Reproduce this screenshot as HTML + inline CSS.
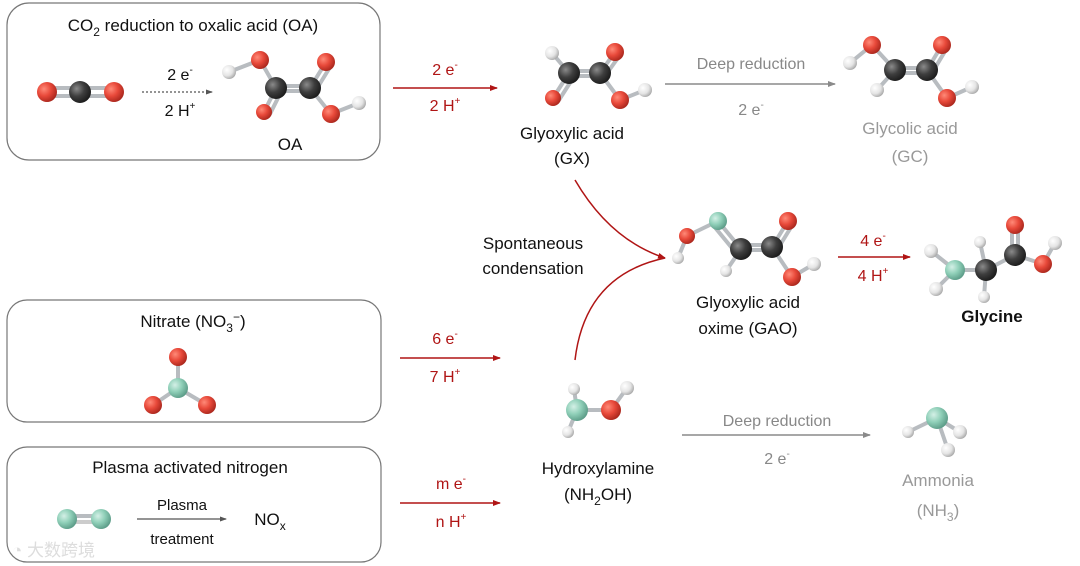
<!DOCTYPE html>
<html><head><meta charset="utf-8"><style>
html,body{margin:0;padding:0;background:#fff;}
svg{display:block;font-family:"Liberation Sans","Noto Sans CJK SC",sans-serif;}
</style></head><body>
<svg width="1080" height="566" viewBox="0 0 1080 566" xmlns="http://www.w3.org/2000/svg">
<defs>
<radialGradient id="gO" cx="35%" cy="35%" r="70%"><stop offset="0" stop-color="#ff8a78"/><stop offset="0.5" stop-color="#e8493a"/><stop offset="1" stop-color="#a8261c"/></radialGradient>
<radialGradient id="gC" cx="35%" cy="35%" r="70%"><stop offset="0" stop-color="#8a8a8a"/><stop offset="0.5" stop-color="#3e3e3e"/><stop offset="1" stop-color="#1a1a1a"/></radialGradient>
<radialGradient id="gH" cx="35%" cy="35%" r="70%"><stop offset="0" stop-color="#ffffff"/><stop offset="0.6" stop-color="#e4e4e4"/><stop offset="1" stop-color="#a8a8a8"/></radialGradient>
<radialGradient id="gN" cx="35%" cy="35%" r="70%"><stop offset="0" stop-color="#d4f0e6"/><stop offset="0.5" stop-color="#8fcfb8"/><stop offset="1" stop-color="#5a9a86"/></radialGradient>
<marker id="ar" markerWidth="8" markerHeight="8" refX="7" refY="4" orient="auto" markerUnits="userSpaceOnUse"><path d="M0,1 L8,4 L0,7 Z" fill="#b01515"/></marker>
<marker id="ag" markerWidth="8" markerHeight="8" refX="7" refY="4" orient="auto" markerUnits="userSpaceOnUse"><path d="M0,1 L8,4 L0,7 Z" fill="#8a8a8a"/></marker>
<marker id="ak" markerWidth="7" markerHeight="7" refX="6" refY="3.5" orient="auto" markerUnits="userSpaceOnUse"><path d="M0,1 L7,3.5 L0,6 Z" fill="#555"/></marker>
</defs>
<g fill="none" stroke="#777" stroke-width="1.2">
<rect x="7" y="3" width="373" height="157" rx="22"/>
<rect x="7" y="300" width="374" height="122" rx="20"/>
<rect x="7" y="447" width="374" height="115" rx="20"/>
</g>
<g font-size="17" fill="#111" text-anchor="middle">
<text x="193" y="31">CO<tspan font-size="12" dy="5">2</tspan><tspan dy="-5"> reduction to oxalic acid (OA)</tspan></text>
<text x="193" y="327">Nitrate (NO<tspan font-size="12" dy="5">3</tspan><tspan font-size="12" dy="-11">−</tspan><tspan dy="6">)</tspan></text>
<text x="190" y="473">Plasma activated nitrogen</text>
<text x="290" y="150">OA</text>
<text x="572" y="139">Glyoxylic acid</text>
<text x="572" y="164">(GX)</text>
<text x="533" y="249">Spontaneous</text>
<text x="533" y="274">condensation</text>
<text x="748" y="308">Glyoxylic acid</text>
<text x="748" y="334">oxime (GAO)</text>
<text x="992" y="322" font-weight="bold">Glycine</text>
<text x="598" y="474">Hydroxylamine</text>
<text x="598" y="500">(NH<tspan font-size="12" dy="5">2</tspan><tspan dy="-5">OH)</tspan></text>
<text x="270" y="525">NO<tspan font-size="12" dy="5">x</tspan></text>
</g>
<g font-size="17" fill="#999" text-anchor="middle">
<text x="910" y="134">Glycolic acid</text>
<text x="910" y="162">(GC)</text>
<text x="938" y="486">Ammonia</text>
<text x="938" y="516">(NH<tspan font-size="12" dy="5">3</tspan><tspan dy="-5">)</tspan></text>
</g>
<g font-size="16" fill="#888" text-anchor="middle">
<text x="751" y="69">Deep reduction</text>
<text x="751" y="115">2 e<tspan font-size="10" dy="-7">-</tspan></text>
<text x="777" y="426">Deep reduction</text>
<text x="777" y="464">2 e<tspan font-size="10" dy="-7">-</tspan></text>
</g>
<g font-size="16" fill="#111" text-anchor="middle">
<text x="180" y="80">2 e<tspan font-size="10" dy="-7">-</tspan></text>
<text x="180" y="116">2 H<tspan font-size="10" dy="-7">+</tspan></text>
<text x="182" y="510" font-size="15">Plasma</text>
<text x="182" y="544" font-size="15">treatment</text>
</g>
<g font-size="16" fill="#b01515" text-anchor="middle">
<text x="445" y="75">2 e<tspan font-size="10" dy="-7">-</tspan></text>
<text x="445" y="111">2 H<tspan font-size="10" dy="-7">+</tspan></text>
<text x="873" y="246">4 e<tspan font-size="10" dy="-7">-</tspan></text>
<text x="873" y="281">4 H<tspan font-size="10" dy="-7">+</tspan></text>
<text x="445" y="344">6 e<tspan font-size="10" dy="-7">-</tspan></text>
<text x="445" y="382">7 H<tspan font-size="10" dy="-7">+</tspan></text>
<text x="451" y="489">m e<tspan font-size="10" dy="-7">-</tspan></text>
<text x="451" y="527">n H<tspan font-size="10" dy="-7">+</tspan></text>
</g>
<!-- arrows -->
<g stroke-width="1.5" fill="none">
<line x1="393" y1="88" x2="497" y2="88" stroke="#b01515" marker-end="url(#ar)"/>
<line x1="838" y1="257" x2="910" y2="257" stroke="#b01515" marker-end="url(#ar)"/>
<line x1="400" y1="358" x2="500" y2="358" stroke="#b01515" marker-end="url(#ar)"/>
<line x1="400" y1="503" x2="500" y2="503" stroke="#b01515" marker-end="url(#ar)"/>
<path d="M575,180 Q610,240 665,258" stroke="#b01515" marker-end="url(#ar)"/>
<path d="M575,360 Q585,275 665,258" stroke="#b01515"/>
<line x1="665" y1="84" x2="835" y2="84" stroke="#8a8a8a" marker-end="url(#ag)"/>
<line x1="682" y1="435" x2="870" y2="435" stroke="#8a8a8a" marker-end="url(#ag)"/>
<line x1="142" y1="92" x2="212" y2="92" stroke="#555" stroke-width="1.3" stroke-dasharray="2,2" marker-end="url(#ak)"/>
<line x1="137" y1="519" x2="226" y2="519" stroke="#555" stroke-width="1.2" marker-end="url(#ak)"/>
</g>
<!-- bonds -->
<g stroke="#b8bcc0" stroke-width="4" stroke-linecap="round">
<!-- CO2 -->
<line x1="47" y1="88" x2="114" y2="88"/><line x1="47" y1="96" x2="114" y2="96"/>
<line x1="67" y1="516" x2="101" y2="516"/><line x1="67" y1="522" x2="101" y2="522" stroke="#ccc"/>
<!-- OA -->
<line x1="229" y1="72" x2="260" y2="60"/><line x1="260" y1="60" x2="276" y2="88"/><line x1="276" y1="88" x2="264" y2="112"/><line x1="282" y1="90" x2="270" y2="114"/>
<line x1="276" y1="86" x2="310" y2="86"/><line x1="276" y1="91" x2="310" y2="91"/><line x1="310" y1="88" x2="326" y2="62"/><line x1="316" y1="90" x2="332" y2="64"/><line x1="310" y1="88" x2="331" y2="114"/><line x1="331" y1="114" x2="359" y2="103"/>
<!-- GX -->
<line x1="552" y1="53" x2="569" y2="73"/><line x1="569" y1="71" x2="600" y2="71"/><line x1="569" y1="76" x2="600" y2="76"/><line x1="569" y1="73" x2="553" y2="98"/><line x1="575" y1="75" x2="559" y2="100"/><line x1="600" y1="73" x2="615" y2="52"/><line x1="605" y1="76" x2="620" y2="55"/><line x1="600" y1="73" x2="620" y2="100"/><line x1="620" y1="100" x2="645" y2="90"/>
<!-- GC -->
<line x1="850" y1="63" x2="872" y2="45"/><line x1="872" y1="45" x2="895" y2="70"/><line x1="895" y1="70" x2="877" y2="90"/><line x1="895" y1="68" x2="927" y2="68"/><line x1="895" y1="73" x2="927" y2="73"/><line x1="927" y1="70" x2="942" y2="45"/><line x1="932" y1="73" x2="947" y2="48"/><line x1="927" y1="70" x2="947" y2="98"/><line x1="947" y1="98" x2="972" y2="87"/>
<!-- GAO -->
<line x1="678" y1="258" x2="687" y2="236"/><line x1="687" y1="236" x2="718" y2="221"/><line x1="718" y1="221" x2="741" y2="249"/><line x1="713" y1="225" x2="736" y2="253"/><line x1="741" y1="249" x2="726" y2="271"/><line x1="741" y1="245" x2="772" y2="245"/><line x1="741" y1="250" x2="772" y2="250"/><line x1="772" y1="247" x2="788" y2="221"/><line x1="777" y1="250" x2="793" y2="224"/><line x1="772" y1="247" x2="792" y2="277"/><line x1="792" y1="277" x2="814" y2="264"/>
<!-- Glycine -->
<line x1="931" y1="251" x2="955" y2="270"/><line x1="955" y1="270" x2="936" y2="289"/><line x1="955" y1="270" x2="986" y2="270"/><line x1="986" y1="270" x2="980" y2="242"/><line x1="986" y1="270" x2="984" y2="297"/><line x1="986" y1="270" x2="1015" y2="255"/><line x1="1012" y1="255" x2="1012" y2="225"/><line x1="1018" y1="255" x2="1018" y2="225"/><line x1="1015" y1="255" x2="1043" y2="264"/><line x1="1043" y1="264" x2="1055" y2="243"/>
<!-- NO3 -->
<line x1="178" y1="388" x2="178" y2="357"/><line x1="178" y1="388" x2="153" y2="405"/><line x1="178" y1="388" x2="207" y2="405"/>
<!-- NH2OH -->
<line x1="574" y1="389" x2="577" y2="410"/><line x1="577" y1="410" x2="611" y2="410"/><line x1="611" y1="410" x2="627" y2="388"/><line x1="577" y1="410" x2="568" y2="432"/>
<!-- NH3 -->
<line x1="937" y1="418" x2="908" y2="432"/><line x1="937" y1="418" x2="960" y2="432"/><line x1="937" y1="418" x2="948" y2="450"/>
</g>
<!-- atoms -->
<g>
<circle cx="47" cy="92" r="10" fill="url(#gO)"/><circle cx="80" cy="92" r="11" fill="url(#gC)"/><circle cx="114" cy="92" r="10" fill="url(#gO)"/>
<circle cx="229" cy="72" r="7" fill="url(#gH)"/><circle cx="260" cy="60" r="9" fill="url(#gO)"/><circle cx="264" cy="112" r="8" fill="url(#gO)"/><circle cx="276" cy="88" r="11" fill="url(#gC)"/><circle cx="310" cy="88" r="11" fill="url(#gC)"/><circle cx="326" cy="62" r="9" fill="url(#gO)"/><circle cx="331" cy="114" r="9" fill="url(#gO)"/><circle cx="359" cy="103" r="7" fill="url(#gH)"/>
<circle cx="552" cy="53" r="7" fill="url(#gH)"/><circle cx="569" cy="73" r="11" fill="url(#gC)"/><circle cx="600" cy="73" r="11" fill="url(#gC)"/><circle cx="615" cy="52" r="9" fill="url(#gO)"/><circle cx="553" cy="98" r="8" fill="url(#gO)"/><circle cx="620" cy="100" r="9" fill="url(#gO)"/><circle cx="645" cy="90" r="7" fill="url(#gH)"/>
<circle cx="850" cy="63" r="7" fill="url(#gH)"/><circle cx="872" cy="45" r="9" fill="url(#gO)"/><circle cx="877" cy="90" r="7" fill="url(#gH)"/><circle cx="895" cy="70" r="11" fill="url(#gC)"/><circle cx="927" cy="70" r="11" fill="url(#gC)"/><circle cx="942" cy="45" r="9" fill="url(#gO)"/><circle cx="947" cy="98" r="9" fill="url(#gO)"/><circle cx="972" cy="87" r="7" fill="url(#gH)"/>
<circle cx="678" cy="258" r="6" fill="url(#gH)"/><circle cx="687" cy="236" r="8" fill="url(#gO)"/><circle cx="718" cy="221" r="9" fill="url(#gN)"/><circle cx="726" cy="271" r="6" fill="url(#gH)"/><circle cx="741" cy="249" r="11" fill="url(#gC)"/><circle cx="772" cy="247" r="11" fill="url(#gC)"/><circle cx="788" cy="221" r="9" fill="url(#gO)"/><circle cx="792" cy="277" r="9" fill="url(#gO)"/><circle cx="814" cy="264" r="7" fill="url(#gH)"/>
<circle cx="931" cy="251" r="7" fill="url(#gH)"/><circle cx="936" cy="289" r="7" fill="url(#gH)"/><circle cx="955" cy="270" r="10" fill="url(#gN)"/><circle cx="980" cy="242" r="6" fill="url(#gH)"/><circle cx="984" cy="297" r="6" fill="url(#gH)"/><circle cx="986" cy="270" r="11" fill="url(#gC)"/><circle cx="1015" cy="255" r="11" fill="url(#gC)"/><circle cx="1015" cy="225" r="9" fill="url(#gO)"/><circle cx="1043" cy="264" r="9" fill="url(#gO)"/><circle cx="1055" cy="243" r="7" fill="url(#gH)"/>
<circle cx="178" cy="357" r="9" fill="url(#gO)"/><circle cx="153" cy="405" r="9" fill="url(#gO)"/><circle cx="207" cy="405" r="9" fill="url(#gO)"/><circle cx="178" cy="388" r="10" fill="url(#gN)"/>
<circle cx="67" cy="519" r="10" fill="url(#gN)"/><circle cx="101" cy="519" r="10" fill="url(#gN)"/>
<circle cx="574" cy="389" r="6" fill="url(#gH)"/><circle cx="568" cy="432" r="6" fill="url(#gH)"/><circle cx="577" cy="410" r="11" fill="url(#gN)"/><circle cx="611" cy="410" r="10" fill="url(#gO)"/><circle cx="627" cy="388" r="7" fill="url(#gH)"/>
<circle cx="908" cy="432" r="6" fill="url(#gH)"/><circle cx="960" cy="432" r="7" fill="url(#gH)"/><circle cx="937" cy="418" r="11" fill="url(#gN)"/><circle cx="948" cy="450" r="7" fill="url(#gH)"/>
</g>
<text x="12" y="556" font-size="17" fill="#ddd" font-family="Liberation Sans,Noto Sans CJK SC,sans-serif">◔ 大数跨境</text>
</svg>
</body></html>
